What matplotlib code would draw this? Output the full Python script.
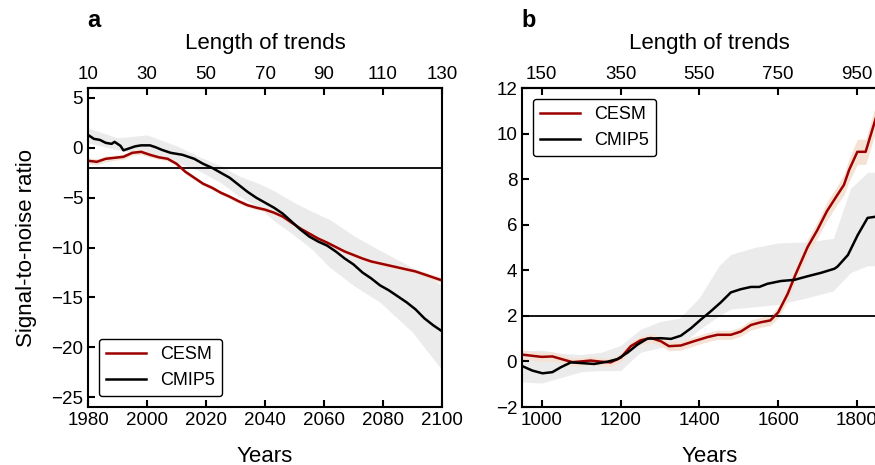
import matplotlib
matplotlib.use('Agg')
import matplotlib.pyplot as plt

plt.rcParams['font.family'] = ['Liberation Sans', 'DejaVu Sans']
plt.rcParams['font.size'] = 13.5
plt.rcParams['axes.linewidth'] = 1.5

# panel a: 1980-2100
years_a = [1980, 1983, 1986, 1989, 1992, 1995, 1998, 2001, 2004, 2007, 2010,
           2013, 2016, 2019, 2022, 2025, 2028, 2031, 2034, 2037, 2040, 2043,
           2046, 2049, 2052, 2055, 2058, 2061, 2064, 2067, 2070, 2073, 2076,
           2079, 2082, 2085, 2088, 2091, 2094, 2097, 2100]
cesm_a = [-1.3, -1.4, -1.1, -1.0, -0.9, -0.5, -0.4, -0.7, -0.95, -1.1, -1.6,
          -2.4, -3.0, -3.6, -4.0, -4.5, -4.9, -5.35, -5.75, -6.0, -6.2, -6.5,
          -6.9, -7.5, -8.1, -8.6, -9.1, -9.5, -9.95, -10.4, -10.75, -11.1, -11.4,
          -11.6, -11.8, -12.0, -12.2, -12.4, -12.7, -13.0, -13.3]
cesm_a_err = [0.3, 0.3, 0.3, 0.25, 0.25, 0.25, 0.25, 0.25, 0.2, 0.2, 0.2,
              0.2, 0.2, 0.2, 0.2, 0.2, 0.2, 0.2, 0.2, 0.2, 0.2, 0.2,
              0.2, 0.2, 0.2, 0.2, 0.2, 0.2, 0.2, 0.2, 0.2, 0.2, 0.2,
              0.2, 0.2, 0.2, 0.2, 0.2, 0.25, 0.25, 0.25]

years_cmip_a = [1980, 1982, 1984, 1986, 1988, 1989, 1991, 1992, 1994, 1996, 1998,
                2001, 2003, 2005, 2008, 2012, 2016, 2019, 2022, 2025, 2028, 2031,
                2034, 2037, 2040, 2043, 2046, 2049, 2052, 2055, 2058, 2061, 2064,
                2067, 2070, 2073, 2076, 2079, 2082, 2085, 2088, 2091, 2094, 2097, 2100]
cmip_a = [1.3, 0.9, 0.8, 0.5, 0.4, 0.6, 0.2, -0.25, -0.05, 0.15, 0.25,
          0.25, 0.05, -0.2, -0.5, -0.7, -1.1, -1.6, -2.0, -2.5, -3.0, -3.7,
          -4.4, -5.0, -5.5, -6.0, -6.6, -7.4, -8.2, -8.9, -9.4, -9.8, -10.4,
          -11.1, -11.7, -12.5, -13.1, -13.8, -14.3, -14.9, -15.5, -16.2, -17.1, -17.8, -18.4]

band_years_a = [1980, 1990, 2000, 2010, 2017, 2025, 2031, 2038, 2043, 2050,
                2056, 2062, 2070, 2079, 2090, 2100]
band_lo_a = [0.5, -0.2, -0.7, -1.5, -2.2, -3.5, -4.8, -6.0, -7.3, -8.8,
             -10.2, -12.0, -13.8, -15.5, -18.5, -22.3]
band_hi_a = [2.0, 1.0, 1.3, 0.2, -0.8, -1.8, -2.8, -3.6, -4.3, -5.5,
             -6.4, -7.2, -8.8, -10.3, -12.0, -13.8]

# panel b: 950-1850
years_b = [950, 975, 1000, 1027, 1057, 1078, 1100, 1124, 1150, 1175, 1201,
           1226, 1251, 1277, 1302, 1323, 1353, 1387, 1421, 1446, 1480, 1505,
           1531, 1556, 1580, 1600, 1624, 1645, 1675, 1699, 1724, 1750, 1767,
           1780, 1801, 1822, 1850]
cesm_b = [0.3, 0.25, 0.2, 0.22, 0.07, -0.03, 0.0, 0.04, -0.01, -0.04, 0.17,
          0.67, 0.93, 1.03, 0.89, 0.67, 0.7, 0.89, 1.07, 1.17, 1.17, 1.31,
          1.6, 1.72, 1.8, 2.15, 2.96, 3.85, 5.03, 5.75, 6.6, 7.3, 7.75,
          8.4, 9.2, 9.2, 10.8]
cesm_b_err = [0.2, 0.2, 0.2, 0.2, 0.18, 0.18, 0.18, 0.18, 0.18, 0.18, 0.18,
              0.2, 0.2, 0.2, 0.2, 0.2, 0.2, 0.2, 0.2, 0.2, 0.2, 0.2,
              0.22, 0.22, 0.22, 0.25, 0.3, 0.3, 0.35, 0.35, 0.4, 0.4, 0.45,
              0.5, 0.55, 0.55, 0.6]

years_cmip_b = [950, 976, 1002, 1027, 1048, 1074, 1099, 1133, 1167, 1192, 1218,
                1243, 1268, 1302, 1328, 1353, 1379, 1404, 1429, 1455, 1480, 1505,
                1531, 1552, 1573, 1607, 1641, 1675, 1709, 1743, 1751, 1777, 1802,
                1827, 1850]
cmip_b = [-0.2, -0.4, -0.52, -0.47, -0.26, -0.04, -0.07, -0.11, -0.01, 0.1, 0.39,
          0.74, 1.0, 1.02, 0.99, 1.13, 1.46, 1.84, 2.2, 2.6, 3.03, 3.17,
          3.27, 3.27, 3.41, 3.53, 3.58, 3.74, 3.89, 4.07, 4.17, 4.67, 5.55,
          6.3, 6.36]

band_years_b = [950, 1000, 1050, 1100, 1150, 1200, 1250, 1300, 1350, 1400,
                1450, 1480, 1540, 1600, 1675, 1740, 1784, 1827, 1850]
band_lo_b = [-0.9, -0.95, -0.7, -0.45, -0.4, -0.4, 0.4, 0.6, 0.7, 1.4,
             2.0, 2.3, 2.4, 2.5, 2.8, 3.1, 3.9, 4.2, 4.2]
band_hi_b = [0.45, 0.5, 0.35, 0.3, 0.4, 0.7, 1.4, 1.75, 1.9, 2.8,
             4.2, 4.7, 5.0, 5.2, 5.25, 5.4, 7.6, 8.3, 8.3]

red = '#9c0000'
peach = '#f5e2d4'
grey = '#ebebeb'

fig = plt.figure(figsize=(8.75, 4.65), dpi=100)
ax1 = fig.add_axes([0.1006, 0.1247, 0.4046, 0.686])
ax2 = fig.add_axes([0.5966, 0.1247, 0.4278, 0.686])

# --- a ---
ax1.fill_between(band_years_a, band_lo_a, band_hi_a, color=grey, lw=0)
ax1.fill_between(years_a, [v - e for v, e in zip(cesm_a, cesm_a_err)],
                 [v + e for v, e in zip(cesm_a, cesm_a_err)], color=peach, lw=0)
ax1.axhline(-2, color='black', lw=1.3)
ax1.plot(years_a, cesm_a, color=red, lw=1.8, label='CESM')
ax1.plot(years_cmip_a, cmip_a, color='black', lw=1.8, label='CMIP5')
ax1.set_xlim(1980, 2100)
ax1.set_ylim(-26, 6)
ax1.set_xticks(range(1980, 2101, 20))
ax1.set_yticks(range(-25, 6, 5))
ax1.set_xlabel('Years', fontsize=16, labelpad=12)
ax1.set_ylabel('Signal-to-noise ratio', fontsize=16, labelpad=10)
sec1 = ax1.secondary_xaxis('top', functions=(lambda x: x - 1970, lambda x: x + 1970))
sec1.set_xticks(range(10, 131, 20))
sec1.set_xlabel('Length of trends', fontsize=16, labelpad=12)
leg = ax1.legend(loc='lower left', handlelength=2.2, borderaxespad=0.6,
                 fancybox=True, edgecolor='black', framealpha=1, fontsize=13)
leg.get_frame().set_linewidth(1.0)

# --- b ---
ax2.fill_between(band_years_b, band_lo_b, band_hi_b, color=grey, lw=0)
ax2.fill_between(years_b, [v - e for v, e in zip(cesm_b, cesm_b_err)],
                 [v + e for v, e in zip(cesm_b, cesm_b_err)], color=peach, lw=0)
ax2.axhline(2, color='black', lw=1.3)
ax2.plot(years_b, cesm_b, color=red, lw=1.8, label='CESM')
ax2.plot(years_cmip_b, cmip_b, color='black', lw=1.8, label='CMIP5')
ax2.set_xlim(950, 1900)
ax2.set_ylim(-2, 12)
ax2.set_xticks(range(1000, 1901, 200))
ax2.set_yticks(range(-2, 13, 2))
ax2.set_xlabel('Years', fontsize=16, labelpad=12)
sec2 = ax2.secondary_xaxis('top', functions=(lambda x: x - 850, lambda x: x + 850))
sec2.set_xticks(range(150, 1151, 200))
sec2.set_xlabel('Length of trends', fontsize=16, labelpad=12)
leg = ax2.legend(loc='upper left', handlelength=2.2, borderaxespad=0.6,
                 fancybox=True, edgecolor='black', framealpha=1, fontsize=13)
leg.get_frame().set_linewidth(1.0)

for ax in (ax1, ax2):
    ax.tick_params(direction='in', length=5, width=1.5, top=False, right=False)
for sec in (sec1, sec2):
    sec.tick_params(direction='in', length=5, width=1.5)

fig.text(0.1, 0.955, 'a', fontsize=17, fontweight='bold', va='center')
fig.text(0.596, 0.955, 'b', fontsize=17, fontweight='bold', va='center')

plt.savefig('out.png', dpi=100)
